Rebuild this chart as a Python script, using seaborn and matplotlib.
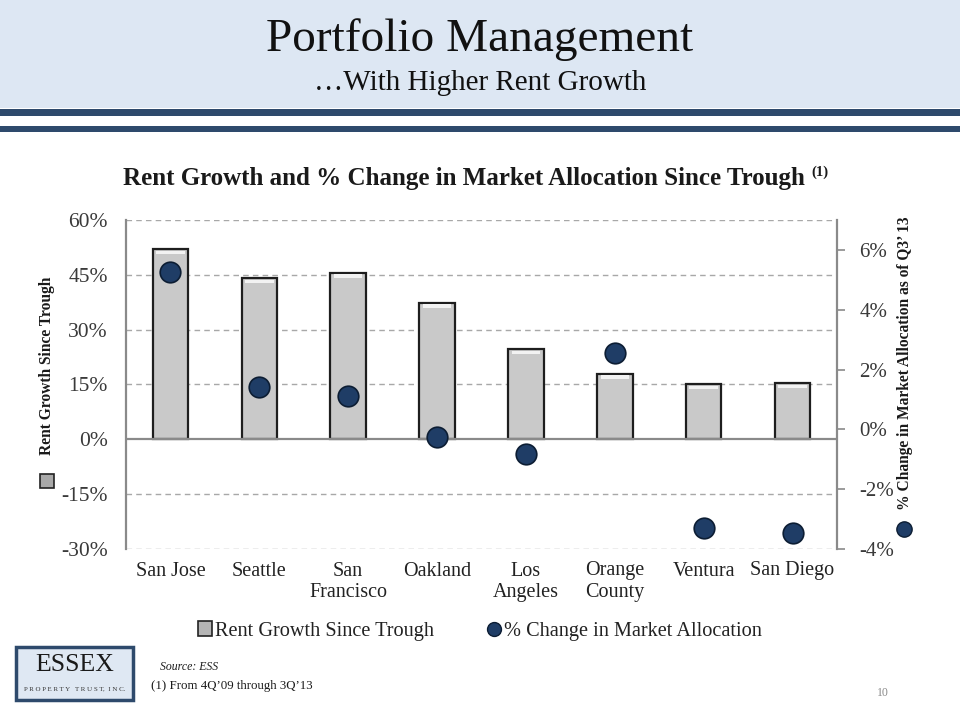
import matplotlib
matplotlib.use("Agg")
import matplotlib.pyplot as plt
import seaborn as sns
import pandas as pd
from matplotlib.patches import Rectangle
from matplotlib.lines import Line2D

# ---------------- data ----------------
markets = ["San Jose", "Seattle", "San\nFrancisco", "Oakland", "Los\nAngeles",
           "Orange\nCounty", "Ventura", "San Diego"]
rent_growth = [52.0, 44.2, 45.6, 37.4, 24.8, 18.0, 15.1, 15.4]          # % (left axis)
allocation_change = [5.26, 1.40, 1.12, -0.26, -0.82, 2.54, -3.30, -3.48]  # % (right axis)
left_ticks = [-30, -15, 0, 15, 30, 45, 60]
right_ticks = [-4, -2, 0, 2, 4, 6]

df = pd.DataFrame({"market": markets, "rent": rent_growth, "alloc": allocation_change})

sns.set_theme(style="white")
plt.rcParams['font.family'] = ['Liberation Serif', 'DejaVu Serif']

W, H = 960, 720
fig = plt.figure(figsize=(9.6, 7.2), dpi=100)
fig.patch.set_facecolor("white")

def fx(px):
    return px / W

def fy(py):
    return 1 - py / H

# ---------------- header ----------------
fig.patches.append(Rectangle((0, fy(108)), 1, 108 / H, transform=fig.transFigure,
                             facecolor="#dde7f3", edgecolor="none", zorder=0))
for top, bot in [(109, 116), (126, 132)]:
    fig.patches.append(Rectangle((0, fy(bot)), 1, (bot - top) / H, transform=fig.transFigure,
                                 facecolor="#2e4a6c", edgecolor="none", zorder=1))
fig.text(0.5, fy(40), "Portfolio Management", ha="center", va="center",
         fontsize=34, color="#111111")
fig.text(0.5, fy(83), "\u2026With Higher Rent Growth", ha="center", va="center",
         fontsize=21, color="#111111")

# ---------------- chart title ----------------
fig.text(fx(464), fy(178), "Rent Growth and % Change in Market Allocation Since Trough",
         ha="center", va="center", fontsize=18, fontweight="bold", color="#1a1a1a")
fig.text(fx(811), fy(172), "(1)", ha="left", va="center", fontsize=10.5,
         fontweight="bold", color="#1a1a1a")

# ---------------- axes ----------------
ax = fig.add_axes([fx(126), fy(549), (837 - 126) / W, (549 - 220) / H])
ax.set_facecolor("none")

sns.barplot(data=df, x="market", y="rent", ax=ax, color="#c9c9c9", width=0.4,
            edgecolor="#1e1e1e", linewidth=1.6, saturation=1, zorder=3)
# subtle bevel highlight on top of bars
for p in ax.patches:
    x0, w, h = p.get_x(), p.get_width(), p.get_height()
    ax.add_patch(Rectangle((x0 + w * 0.1, h - 1.4), w * 0.8, 0.9,
                           facecolor="#f2f2f2", edgecolor="none", zorder=4))

ax.set_ylim(-30, 60)
ax.set_yticks(left_ticks)
ax.set_yticklabels([f"{t}%" for t in left_ticks])
ax.set_xlim(-0.5, len(markets) - 0.5)
for t in left_ticks:
    if t == 0:
        ax.axhline(0, color="#8a8a8a", lw=1.6, zorder=5)
    else:
        ax.axhline(t, color="#a8a8a8", lw=1.0, ls=(0, (4, 3)), zorder=1)
for s in ["top", "bottom", "right"]:
    ax.spines[s].set_visible(False)
ax.spines["left"].set_color("#8a8a8a")
ax.spines["left"].set_linewidth(1.6)
ax.tick_params(axis="y", length=0, pad=13, labelsize=15.5, labelcolor="#3a3a3a")
ax.tick_params(axis="x", length=0, pad=9, labelsize=14.5, labelcolor="#222222")
ax.set_xlabel("")
ax.set_ylabel("")

ax2 = ax.twinx()
sns.scatterplot(data=df, x="market", y="alloc", ax=ax2, s=220, color="#1f3d66",
                edgecolor="#0c1d33", linewidth=1.2, zorder=6, legend=False)
ax2.set_ylim(-4, 7)
ax2.set_yticks(right_ticks)
ax2.set_yticklabels([f"{t}%" for t in right_ticks])
for s in ["top", "bottom", "left"]:
    ax2.spines[s].set_visible(False)
ax2.spines["right"].set_color("#8a8a8a")
ax2.spines["right"].set_linewidth(1.6)
ax2.tick_params(axis="y", direction="out", length=6, width=1.2, color="#8a8a8a",
                pad=10, labelsize=15, labelcolor="#3a3a3a")
ax2.set_ylabel("")
ax2.set_xlabel("")

# ---------------- axis titles ----------------
fig.text(fx(47), fy(366), "Rent Growth Since Trough", rotation=90, ha="center",
         va="center", fontsize=11.2, fontweight="bold", color="#1a1a1a")
fig.patches.append(Rectangle((fx(40), fy(488)), 14 / W, 14 / H, transform=fig.transFigure,
                             facecolor="#a9a9a9", edgecolor="#222222", lw=1.2, zorder=3))
fig.text(fx(905), fy(363), "% Change in Market Allocation as of Q3\u2019 13", rotation=90,
         ha="center", va="center", fontsize=11.2, fontweight="bold", color="#1a1a1a")
fig.lines.append(Line2D([fx(904)], [fy(529)], transform=fig.transFigure, marker="o",
                        markersize=11, markerfacecolor="#1f3d66", markeredgecolor="#0c1d33",
                        linestyle="none"))

# ---------------- legend ----------------
handles = [
    Rectangle((0, 0), 1, 1, facecolor="#b5b5b5", edgecolor="#222222", lw=1.2),
    Line2D([0], [0], marker="o", linestyle="none", markersize=10,
           markerfacecolor="#1f3d66", markeredgecolor="#0c1d33"),
]
fig.legend(handles, ["Rent Growth Since Trough", "% Change in Market Allocation"],
           loc="center", bbox_to_anchor=(fx(480), fy(631)), ncol=2, frameon=False,
           fontsize=14.6, handlelength=0.7, handleheight=0.7, handletextpad=0.15,
           columnspacing=2.6, labelcolor="#222222")

# ---------------- footer ----------------
fig.patches.append(Rectangle((fx(16), fy(700)), (133 - 16) / W, (700 - 647) / H,
                             transform=fig.transFigure, facecolor="#dfe8f3",
                             edgecolor="#2e4a6c", lw=2.5, zorder=2))
fig.text(fx(74.5), fy(665), "ESSEX", ha="center", va="center", fontsize=18.5,
         color="#1a1a1a", zorder=3)
fig.lines.append(Line2D([fx(26), fx(123)], [fy(680), fy(680)], transform=fig.transFigure,
                        color="#9aa8b8", lw=0.6))
fig.text(fx(74.5), fy(689), "P R O P E R T Y   T R U S T,  I N C.", ha="center", va="center",
         fontsize=5, color="#333333", zorder=3)
fig.text(fx(160), fy(667), "Source: ESS", ha="left", va="center", fontsize=8.5,
         style="italic", color="#1a1a1a")
fig.text(fx(151), fy(686), "(1) From 4Q\u201909 through 3Q\u201913", ha="left", va="center",
         fontsize=9.3, color="#1a1a1a")
fig.text(fx(883), fy(693), "10", ha="center", va="center", fontsize=8.5, color="#8a8a8a")

fig.savefig("out.png", dpi=100)
